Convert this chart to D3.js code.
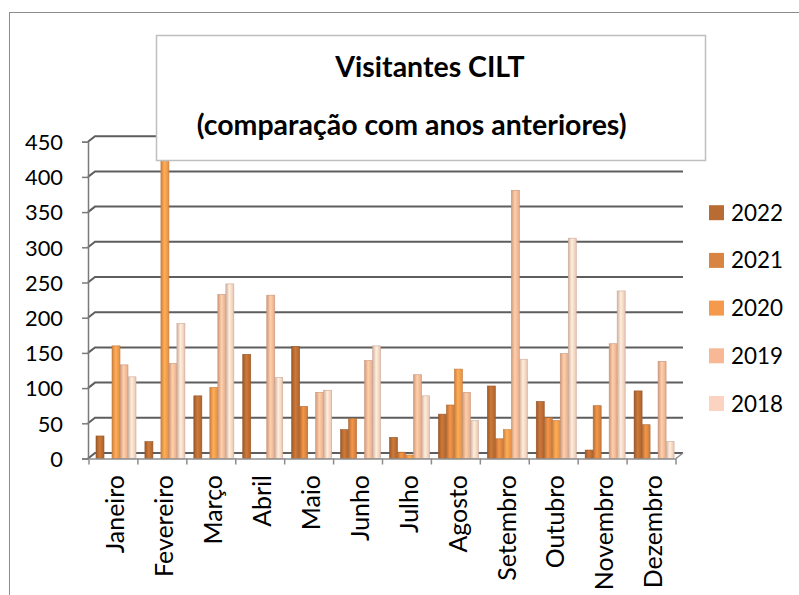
<!DOCTYPE html>
<html>
<head>
<meta charset="utf-8">
<script src="https://cdn.jsdelivr.net/npm/d3@7"></script>
<style>
body { margin: 0; background: #fff; }
svg text { font-family: Lato, "Open Sans", sans-serif; fill: #000; }
</style>
</head>
<body>
<svg id="chart" width="799" height="595"></svg>
<script>

var months = ["Janeiro", "Fevereiro", "Março", "Abril", "Maio", "Junho",
	"Julho", "Agosto", "Setembro", "Outubro", "Novembro", "Dezembro"];
var years = ["2022", "2021", "2020", "2019", "2018"];

var v2022 = [32, 24, 89, 148, 159, 41, 30, 63, 103, 81, 12, 96];
var v2021 = [0, 0, 0, 0, 74, 57, 9, 76, 28, 58, 75, 48];
var v2020 = [160, 440, 101, 0, 0, 0, 5, 127, 41, 54, 0, 0];
var v2019 = [133, 135, 233, 232, 94, 139, 119, 94, 381, 149, 163, 138];
var v2018 = [116, 192, 248, 115, 97, 160, 89, 54, 141, 313, 238, 24];

var yTicks = [0, 50, 100, 150, 200, 250, 300, 350, 400, 450];
var colors = ["#b86b32", "#d98440", "#f59a4c", "#f8b896", "#fbd3c0"];

var series = [v2022, v2021, v2020, v2019, v2018];


// font size that makes a text reach a given width
function fitSize(svg, str, width, weight)
{
	var t = svg.append("text")
		.style("font-size", "100px")
		.style("font-weight", weight || "normal")
		.text(str);
	var w = t.node().getComputedTextLength();
	t.remove();
	return 100 * width / w;
}

function drawChart()
{
	var svg = d3.select("#chart");

	var labelSize = fitSize(svg, "Fevereiro", 102);
	var tickSize = fitSize(svg, "450", 38);
	var legendSize = fitSize(svg, "2022", 52);
	var titleSize = fitSize(svg, "(comparação com anos anteriores)", 430, "bold");

	// outer frame
	svg.append("rect")
		.attr("x", 9.5).attr("y", 12.5)
		.attr("width", 820).attr("height", 620)
		.attr("fill", "#fff")
		.attr("stroke", "#8c8c8c");

	var x = d3.scaleBand().domain(months).range([89, 676]);
	var inner = d3.scaleBand().domain(years).range([7, 47]);
	var y = d3.scaleLinear().domain([0, 450]).range([458.5, 141.7]);

	var dx = 7, dy = -5.5;

	// gradients
	var defs = svg.append("defs");
	colors.forEach(function(c, i)
	{
		var g = defs.append("linearGradient").attr("id", "g" + i);
		g.append("stop").attr("offset", "0%").attr("stop-color", d3.color(c).darker(0.5));
		g.append("stop").attr("offset", "45%").attr("stop-color", d3.color(c).brighter(0.35));
		g.append("stop").attr("offset", "100%").attr("stop-color", d3.color(c).darker(0.2));
	});

	// back wall grid
	svg.append("g")
		.selectAll(".grid")
		.data(yTicks)
		.enter()
		.append("path")
		.attr("d", function(d)
		{
			return "M88," + y(d) + "L" + (88 + dx) + "," + (y(d) + dy) + "H683";
		})
		.attr("fill", "none")
		.attr("stroke", "#5e5e5e")
		.attr("stroke-width", 2);

	// floor right edge
	svg.append("path")
		.attr("d", "M676," + y(0) + "L683," + (y(0) + dy))
		.attr("stroke", "#8c8c8c")
		.attr("stroke-width", 1.5)
		.attr("fill", "none");

	// bars
	var groups = svg.selectAll(".serie")
		.data(series)
		.enter()
		.append("g")
		.attr("class", "serie");

	groups.each(function(vals, si)
	{
		var g = d3.select(this);
		var yr = years[si];
		g.selectAll("rect")
			.data(vals)
			.enter()
			.append("rect")
			.attr("x", function(d, i) { return x(months[i]) + inner(yr); })
			.attr("y", function(d) { return y(d); })
			.attr("width", inner.bandwidth())
			.attr("height", function(d) { return y(0) - y(d); })
			.attr("fill", "url(#g" + si + ")")
			.attr("stroke", d3.color(colors[si]).darker(0.6))
			.attr("stroke-width", 0.6)
			.attr("stroke-opacity", function(d) { return d > 0 ? 1 : 0; });
	});

	// y axis
	var yAxis = d3.axisLeft(y).tickValues(yTicks).tickSize(6).tickPadding(19);
	var ya = svg.append("g")
		.attr("transform", "translate(88,0)")
		.call(yAxis);
	ya.selectAll("path, line").attr("stroke", "#7a7a7a").attr("stroke-width", 1.5);
	ya.selectAll("text")
		.style("font-size", tickSize + "px")
		.attr("dy", "0.36em");

	// x axis
	var xAxis = d3.axisBottom(x).tickSize(0);
	var xa = svg.append("g")
		.attr("transform", "translate(0," + y(0) + ")")
		.call(xAxis);
	xa.select(".domain").attr("stroke", "#8c8c8c").attr("stroke-width", 1.5);
	xa.selectAll("text")
		.style("font-size", labelSize + "px")
		.attr("text-anchor", "end")
		.attr("transform", "rotate(-90)")
		.attr("x", -16.5)
		.attr("y", 2)
		.attr("dy", "0.35em");

	var bounds = months.map(function(m) { return x(m); }).concat([x.range()[1]]);
	xa.selectAll(".bound")
		.data(bounds)
		.enter()
		.append("line")
		.attr("x1", function(d) { return d; })
		.attr("x2", function(d) { return d; })
		.attr("y1", 0).attr("y2", 6)
		.attr("stroke", "#8c8c8c")
		.attr("stroke-width", 1.5);

	// title box
	svg.append("rect")
		.attr("x", 156.5).attr("y", 35.5)
		.attr("width", 549).attr("height", 125)
		.attr("fill", "#fff")
		.attr("stroke", "#bfbfbf")
		.attr("stroke-width", 1.5);

	svg.append("text")
		.attr("x", 430).attr("y", 77)
		.attr("text-anchor", "middle")
		.style("font-size", titleSize + "px")
		.style("font-weight", "bold")
		.text("Visitantes CILT");

	svg.append("text")
		.attr("x", 411.7).attr("y", 134.5)
		.attr("text-anchor", "middle")
		.style("font-size", titleSize + "px")
		.style("font-weight", "bold")
		.text("(comparação com anos anteriores)");

	// legend
	var legend = svg.selectAll(".legend")
		.data(years)
		.enter()
		.append("g")
		.attr("class", "legend")
		.attr("transform", function(d, i)
		{
			return "translate(709," + (212.7 + i * 47.7) + ")";
		});

	legend.append("rect")
		.attr("x", 0).attr("y", -7.5)
		.attr("width", 15).attr("height", 15)
		.attr("fill", function(d, i) { return colors[i]; });

	legend.append("text")
		.attr("x", 22)
		.attr("dy", "0.36em")
		.style("font-size", legendSize + "px")
		.text(function(d) { return d; });
}

drawChart();

</script>
</body>
</html>
